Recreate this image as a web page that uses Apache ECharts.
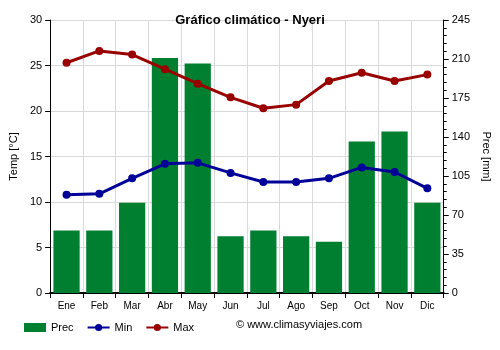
<!DOCTYPE html>
<html><head><meta charset="utf-8">
<script src="https://cdn.jsdelivr.net/npm/echarts@6/dist/echarts.min.js"></script>
<style>html,body{margin:0;padding:0;background:#fff}#c{width:500px;height:350px}</style>
</head><body><div id="c"></div>
<script>
var months = ['Ene','Feb','Mar','Abr','May','Jun','Jul','Ago','Sep','Oct','Nov','Dic'];
var prec = [56, 56, 81, 211, 206, 51, 56, 51, 46, 136, 145, 81];
var tmin = [10.8, 10.9, 12.6, 14.2, 14.3, 13.2, 12.2, 12.2, 12.6, 13.8, 13.3, 11.5];
var tmax = [25.3, 26.6, 26.2, 24.6, 23.0, 21.5, 20.3, 20.7, 23.3, 24.2, 23.3, 24.0];
var tempTicks = [0, 5, 10, 15, 20, 25, 30];
var precTicks = [0, 35, 70, 105, 140, 175, 210, 245];

var chart = echarts.init(document.getElementById('c'), null, {renderer:'canvas'});
var font = 'Arial, Liberation Sans, sans-serif';
chart.setOption({
  animation: false,
  title: {text: 'Gráfico climático - Nyeri', left: 'center', top: 9,
    textStyle: {fontFamily: font, fontSize: 13, fontWeight: 'bold', color: '#000'}},
  grid: {left: 49, right: 55, top: 20, bottom: 57},
  legend: {
    bottom: 12, left: 19, itemGap: 13, itemWidth: 22, itemHeight: 9,
    textStyle: {fontFamily: font, fontSize: 11, color: '#000'},
    data: [
      {name: 'Prec', icon: 'rect'},
      {name: 'Min'},
      {name: 'Max'}
    ]
  },
  graphic: [{type: 'text', left: 236, top: 319,
    style: {text: '© www.climasyviajes.com', fontFamily: font, fontSize: 11, fill: '#000'}}],
  xAxis: {
    type: 'category', data: months,
    axisLine: {lineStyle: {color: '#000', width: 2}},
    axisTick: {show: true, alignWithLabel: false, lineStyle: {color: '#000'}},
    axisLabel: {fontFamily: font, fontSize: 10, color: '#000', margin: 8},
    splitLine: {show: true, lineStyle: {color: '#d9d9d9'}}
  },
  yAxis: [
    {type: 'value', min: 0, max: 30, interval: 5, name: 'Temp [°C]',
      nameLocation: 'middle', nameGap: 27, nameRotate: 90,
      nameTextStyle: {fontFamily: font, fontSize: 11, color: '#000'},
      axisLine: {show: true, lineStyle: {color: '#000'}},
      axisTick: {show: true, lineStyle: {color: '#000'}},
      axisLabel: {fontFamily: font, fontSize: 11, color: '#000'},
      splitLine: {show: true, lineStyle: {color: '#d9d9d9'}}},
    {type: 'value', min: 0, max: 245, interval: 35, name: 'Prec [mm]',
      nameLocation: 'middle', nameGap: 33, nameRotate: -90,
      nameTextStyle: {fontFamily: font, fontSize: 11, color: '#000'},
      axisLine: {show: true, lineStyle: {color: '#000'}},
      axisTick: {show: true, lineStyle: {color: '#000'}},
      minorTick: {show: true, splitNumber: 5, length: 3, lineStyle: {color: '#000'}},
      axisLabel: {fontFamily: font, fontSize: 11, color: '#000'},
      splitLine: {show: false}}
  ],
  series: [
    {name: 'Prec', type: 'bar', yAxisIndex: 1, data: prec, barCategoryGap: '20%',
      itemStyle: {color: '#007f30'}, z: 1},
    {name: 'Min', type: 'line', yAxisIndex: 0, data: tmin, symbol: 'circle', symbolSize: 8,
      lineStyle: {color: '#000099', width: 3}, itemStyle: {color: '#000099'}, z: 3},
    {name: 'Max', type: 'line', yAxisIndex: 0, data: tmax, symbol: 'circle', symbolSize: 8,
      lineStyle: {color: '#990000', width: 3}, itemStyle: {color: '#990000'}, z: 3}
  ]
});
</script></body></html>
